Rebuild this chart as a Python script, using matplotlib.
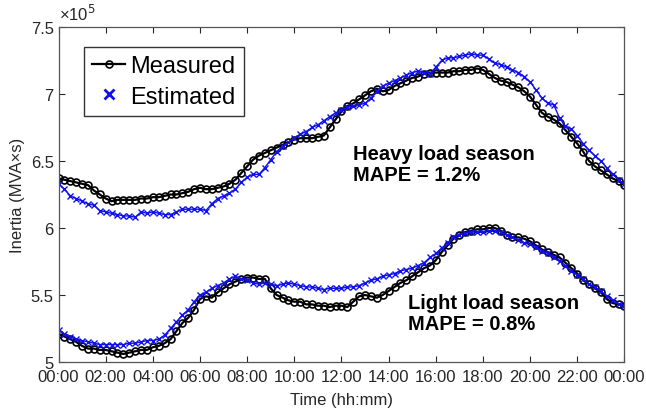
import matplotlib
matplotlib.use("Agg")
import matplotlib.pyplot as plt
from matplotlib.lines import Line2D
from matplotlib.ticker import FuncFormatter
import numpy as np

plt.rcParams['font.family'] = ['Liberation Sans', 'DejaVu Sans']

# time axis: every 15 min over one day (hours)
hours = np.arange(0, 24.01, 0.25)

# inertia values in units of 1e5 MVA*s
heavy_measured = [
    6.37, 6.36, 6.35, 6.34, 6.33, 6.32, 6.28, 6.25,
    6.22, 6.20, 6.21, 6.21, 6.21, 6.21, 6.22, 6.22,
    6.23, 6.23, 6.24, 6.25, 6.25, 6.26, 6.27, 6.29,
    6.30, 6.29, 6.29, 6.30, 6.31, 6.33, 6.36, 6.41,
    6.46, 6.51, 6.54, 6.56, 6.58, 6.60, 6.62, 6.64,
    6.66, 6.67, 6.67, 6.67, 6.68, 6.69, 6.75, 6.81,
    6.87, 6.91, 6.93, 6.96, 6.99, 7.02, 7.04, 7.02,
    7.03, 7.06, 7.08, 7.10, 7.12, 7.13, 7.15, 7.16,
    7.16, 7.16, 7.16, 7.17, 7.17, 7.18, 7.18, 7.19,
    7.18, 7.15, 7.12, 7.10, 7.09, 7.07, 7.05, 7.02,
    6.98, 6.92, 6.86, 6.83, 6.81, 6.78, 6.73, 6.68,
    6.63, 6.57, 6.50, 6.46, 6.43, 6.40, 6.37, 6.35,
    6.32]
heavy_estimated = [
    6.33, 6.29, 6.24, 6.22, 6.20, 6.18, 6.17, 6.13,
    6.12, 6.11, 6.10, 6.09, 6.09, 6.08, 6.12, 6.11,
    6.12, 6.11, 6.10, 6.10, 6.12, 6.14, 6.14, 6.14,
    6.14, 6.13, 6.18, 6.22, 6.24, 6.26, 6.29, 6.34,
    6.38, 6.40, 6.40, 6.45, 6.51, 6.57, 6.61, 6.64,
    6.67, 6.70, 6.72, 6.75, 6.77, 6.80, 6.83, 6.86,
    6.88, 6.90, 6.91, 6.92, 6.93, 6.97, 7.02, 7.06,
    7.08, 7.10, 7.12, 7.14, 7.16, 7.17, 7.16, 7.15,
    7.20, 7.25, 7.27, 7.27, 7.28, 7.29, 7.30, 7.29,
    7.29, 7.26, 7.23, 7.22, 7.20, 7.18, 7.16, 7.13,
    7.09, 7.03, 6.97, 6.93, 6.92, 6.82, 6.76, 6.74,
    6.69, 6.63, 6.58, 6.54, 6.50, 6.45, 6.40, 6.36,
    6.33]
light_measured = [
    5.21, 5.19, 5.17, 5.15, 5.12, 5.10, 5.10, 5.09,
    5.09, 5.08, 5.07, 5.06, 5.07, 5.08, 5.09, 5.09,
    5.11, 5.12, 5.14, 5.17, 5.23, 5.29, 5.33, 5.39,
    5.47, 5.49, 5.48, 5.52, 5.55, 5.58, 5.60, 5.62,
    5.63, 5.63, 5.62, 5.62, 5.55, 5.50, 5.48, 5.46,
    5.45, 5.45, 5.43, 5.43, 5.42, 5.42, 5.41, 5.42,
    5.42, 5.41, 5.45, 5.49, 5.50, 5.49, 5.48, 5.50,
    5.53, 5.56, 5.59, 5.61, 5.64, 5.67, 5.70, 5.72,
    5.76, 5.82, 5.87, 5.92, 5.95, 5.97, 5.98, 5.99,
    5.99, 6.00, 6.00, 5.98, 5.95, 5.93, 5.93, 5.92,
    5.90, 5.87, 5.84, 5.82, 5.80, 5.78, 5.74, 5.70,
    5.66, 5.61, 5.58, 5.55, 5.52, 5.47, 5.44, 5.43,
    5.42]
light_estimated = [
    5.24, 5.21, 5.19, 5.17, 5.16, 5.15, 5.14, 5.13,
    5.13, 5.13, 5.13, 5.13, 5.14, 5.14, 5.15, 5.16,
    5.16, 5.17, 5.20, 5.25, 5.30, 5.35, 5.39, 5.45,
    5.50, 5.52, 5.55, 5.57, 5.59, 5.62, 5.64, 5.62,
    5.61, 5.59, 5.58, 5.59, 5.58, 5.57, 5.58, 5.59,
    5.58, 5.57, 5.56, 5.56, 5.55, 5.54, 5.55, 5.55,
    5.55, 5.56, 5.56, 5.57, 5.59, 5.61, 5.62, 5.64,
    5.65, 5.66, 5.68, 5.69, 5.70, 5.72, 5.74, 5.78,
    5.81, 5.85, 5.89, 5.93, 5.95, 5.96, 5.97, 5.97,
    5.97, 5.98, 5.98, 5.97, 5.95, 5.93, 5.91, 5.89,
    5.88, 5.86, 5.83, 5.81, 5.78, 5.75, 5.72, 5.68,
    5.65, 5.62, 5.58, 5.56, 5.53, 5.49, 5.46, 5.43,
    5.42]

tick_hours = list(range(0, 25, 2))
tick_labels = ['%02d:00' % (h % 24) for h in tick_hours]

fig = plt.figure(figsize=(6.46, 4.14), dpi=100)
ax = fig.add_axes([0.0906, 0.1232, 0.876, 0.8092])

black_kw = dict(color='black', lw=1.6, marker='o', ms=5, mfc='none', mew=1.2)
blue_kw = dict(color='#1010ee', lw=1.0, marker='x', ms=5, mew=1.0)

ax.plot(hours, heavy_measured, **black_kw)
ax.plot(hours, heavy_estimated, **blue_kw)
ax.plot(hours, light_measured, **black_kw)
ax.plot(hours, light_estimated, **blue_kw)

ax.set_xlim(0, 24)
ax.set_ylim(5, 7.5)
ax.set_xticks(tick_hours)
ax.set_xticklabels(tick_labels)
ax.set_yticks([5, 5.5, 6, 6.5, 7, 7.5])
ax.yaxis.set_major_formatter(FuncFormatter(lambda v, p: ('%g' % v)))
ax.tick_params(direction='in', length=4, top=True, right=True,
               labelsize=12, colors='#262626', width=0.8)
ax.tick_params(axis='x', pad=5)
for s in ax.spines.values():
    s.set_color('#555555')
    s.set_linewidth(0.9)

ax.set_xlabel('Time (hh:mm)', fontsize=12, color='#262626', labelpad=6)
ax.set_ylabel('Inertia (MVA\u00d7s)', fontsize=12, color='#262626', labelpad=4)
ax.text(0.0, 1.012, '\u00d710$^5$', transform=ax.transAxes, fontsize=12,
        color='#262626', ha='left', va='bottom')

ax.text(12.48, 6.48, 'Heavy load season\nMAPE = 1.2%', fontsize=14.5,
        fontweight='bold', va='center', ha='left', linespacing=1.15)
ax.text(14.82, 5.365, 'Light load season\nMAPE = 0.8%', fontsize=14.5,
        fontweight='bold', va='center', ha='left', linespacing=1.15)

handles = [Line2D([], [], **black_kw),
           Line2D([], [], color='#1010ee', lw=0, marker='x', ms=7, mew=2)]
leg = ax.legend(handles, ['Measured', 'Estimated'], loc='upper left',
                bbox_to_anchor=(0.045, 0.94), fontsize=17, frameon=True,
                fancybox=False, edgecolor='black', handlelength=1.4,
                handletextpad=0.2, borderpad=0.35, labelspacing=0.35,
                borderaxespad=0)
leg.get_frame().set_linewidth(1.0)

fig.savefig('out.png', dpi=100)
